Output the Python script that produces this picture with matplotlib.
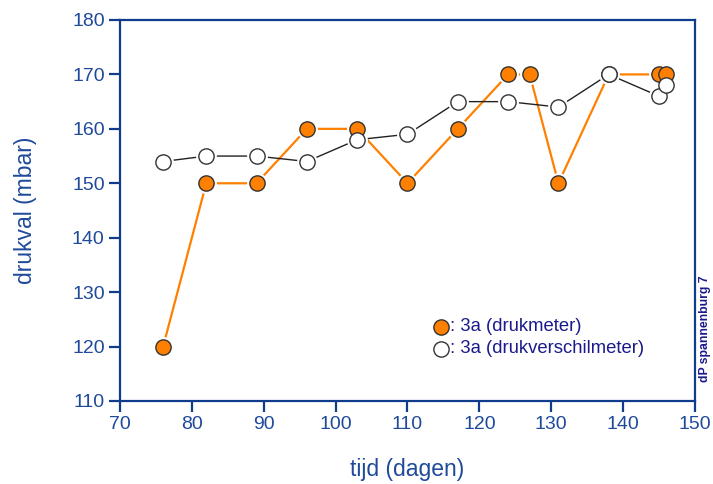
import matplotlib
matplotlib.use('Agg')
import matplotlib.pyplot as plt

plt.rcParams['font.family'] = ['Liberation Sans', 'DejaVu Sans']

# drukmeter (orange)
days_meter = [76, 82, 89, 96, 103, 110, 117, 124, 127, 131, 138, 145, 146]
druk_meter = [120, 150, 150, 160, 160, 150, 160, 170, 170, 150, 170, 170, 170]

# drukverschilmeter (white)
days_verschil = [76, 82, 89, 96, 103, 110, 117, 124, 131, 138, 145, 146]
druk_verschil = [154, 155, 155, 154, 158, 159, 165, 165, 164, 170, 166, 168]

axcol = '#0f3d8c'
txtcol = '#1f4a9a'
legcol = '#1a1a8c'
orange = '#ff8000'

fig = plt.figure(figsize=(7.13, 4.84), dpi=100)
ax = fig.add_axes([0.1683, 0.1715, 0.8064, 0.7872])

ax.plot(days_meter, druk_meter, color=orange, lw=1.6, zorder=2)
ax.plot(days_verschil, druk_verschil, color='#222222', lw=1.0, zorder=2)

# white rings give the small gap between line and marker
ax.plot(days_meter, druk_meter, 'o', ms=14, color='white', mec='white', zorder=3)
ax.plot(days_verschil, druk_verschil, 'o', ms=14, color='white', mec='white', zorder=3)
ax.plot(days_meter, druk_meter, 'o', ms=11, mfc=orange, mec='#333333', mew=1.0, zorder=4)
ax.plot(days_verschil, druk_verschil, 'o', ms=11, mfc='white', mec='#333333', mew=1.0, zorder=5)

ax.set_xlim(70, 150)
ax.set_ylim(110, 180)
ax.set_xticks(range(70, 151, 10))
ax.set_yticks(range(110, 181, 10))

for s in ax.spines.values():
    s.set_color(axcol)
    s.set_linewidth(1.6)
ax.tick_params(direction='out', length=8, width=1.6, color=axcol,
               labelcolor=txtcol, labelsize=14, pad=3)

ax.set_xlabel('tijd (dagen)', fontsize=16.5, color=txtcol, labelpad=18)
ax.set_ylabel('drukval (mbar)', fontsize=16.5, color=txtcol, labelpad=25)

# legend
ax.plot([114.6], [123.6], 'o', ms=11, mfc=orange, mec='#333333', mew=1.0, clip_on=False)
ax.text(115.9, 123.6, ': 3a (drukmeter)', fontsize=13.3, color=legcol, va='center')
ax.plot([114.6], [119.6], 'o', ms=11, mfc='white', mec='#333333', mew=1.0, clip_on=False)
ax.text(115.9, 119.6, ': 3a (drukverschilmeter)', fontsize=13.3, color=legcol, va='center')

fig.text(0.989, 0.32, 'dP spannenburg 7', rotation=90, fontsize=8.8, fontweight='bold',
         color=legcol, ha='center', va='center')

fig.savefig('out.png', dpi=100)
